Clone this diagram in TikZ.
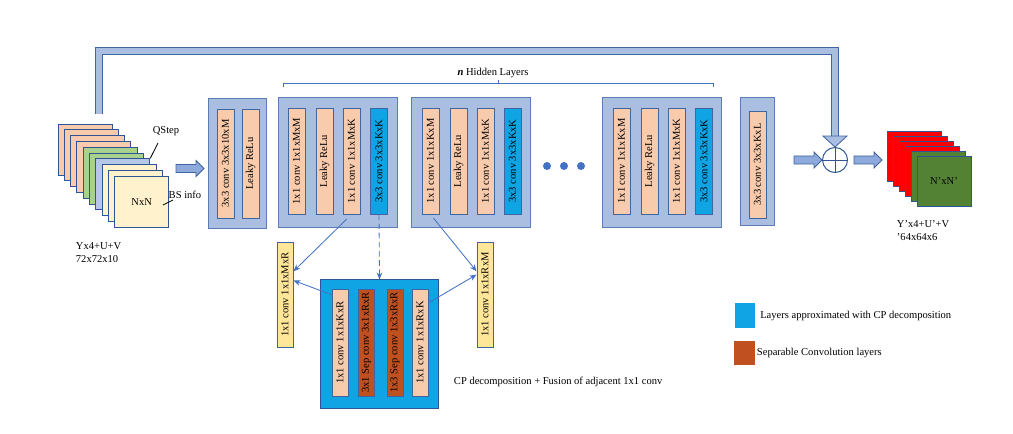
\documentclass[tikz,border=0pt]{standalone}
\usepackage{fontspec}
\setmainfont{Liberation Serif}
\usetikzlibrary{arrows.meta,shapes.arrows}

\definecolor{peach}{HTML}{F8CBAD}
\definecolor{greenpg}{HTML}{A9D18E}
\definecolor{bluepg}{HTML}{B4C7E7}
\definecolor{cream}{HTML}{FFF2CC}
\definecolor{yellowbar}{HTML}{FFE699}
\definecolor{cpblue}{HTML}{10A4E4}
\definecolor{sepbrown}{HTML}{C0501F}
\definecolor{blkfill}{HTML}{AABEE1}
\definecolor{blkline}{HTML}{5A7DB5}
\definecolor{barline}{HTML}{41659E}
\definecolor{pageline}{HTML}{2F5597}
\definecolor{outred}{HTML}{FF0000}
\definecolor{outgreen}{HTML}{548235}
\definecolor{arrfill}{HTML}{8EA9DB}
\definecolor{linkblue}{HTML}{4472C4}

\tikzset{
  every node/.style={font=\fontsize{7.5}{9}\selectfont},
  blk/.style={draw=blkline, fill=blkfill, line width=0.7pt, minimum width=2.95cm, minimum height=3.225cm, inner sep=0pt},
  bar/.style={draw=barline, fill=peach, line width=0.6pt, minimum width=0.425cm, minimum height=2.65cm, inner sep=0pt},
  lbl/.style={label={[rotate=90]center:#1}},
  page/.style={draw=pageline, line width=0.7pt, minimum width=1.35cm, minimum height=1.275cm, inner sep=0pt},
  opage/.style={page, minimum height=1.25cm},
  fatarrow/.style={single arrow, draw=barline, fill=arrfill, line width=0.6pt, inner sep=0pt, inner ysep=0.09cm,
    single arrow head extend=0.1cm, single arrow head indent=0pt, minimum height=0.7cm},
  link/.style={draw=linkblue, line width=0.6pt, -{Stealth[length=5pt,width=4pt]}},
}

\begin{document}
\begin{tikzpicture}[x=0.025cm, y=-0.025cm]
\useasboundingbox (0,0) rectangle (1013,434);

\node[page, fill=peach] (in0) at (85,149.5) {};
\node[page, fill=peach] (in1) at (91.3,155.3) {};
\node[page, fill=peach] (in2) at (97.6,161.1) {};
\node[page, fill=peach] (in3) at (103.9,166.9) {};
\node[page, fill=greenpg] (in4) at (110.2,172.7) {};
\node[page, fill=greenpg] (in5) at (116.5,178.5) {};
\node[page, fill=bluepg] (in6) at (122.8,184.3) {};
\node[page, fill=cream] (in7) at (129.1,190.1) {};
\node[page, fill=cream] (in8) at (135.4,195.9) {};
\node[page, fill=cream] (in9) at (141.7,201.7) {NxN};
\node (qstep) at (166,131) {QStep};
\node (bsinfo) at (185,195) {BS info};
\coordinate (qsend) at (158,143);
\coordinate (bsend) at (163,205);
\coordinate (bsstart) at (173,200);
\draw[line width=0.6pt] (in6.north east) -- (qsend);
\draw[line width=0.6pt] (bsstart) -- (bsend);
\node[align=left, anchor=west] (intxt) at (71,252.5) {Yx4+U+V\\72x72x10};

\node[fatarrow] (arrIn) at (188,168.5) {};

\node[blk, minimum width=1.45cm] (blk0) at (237,163.5) {};
\node[bar, minimum height=2.725cm, lbl=3x3 conv 3x3x10xM] (b01) at (225.5,163.5) {};
\node[bar, minimum height=2.725cm, lbl=Leaky ReLu] (b02) at (250.5,163.5) {};

\node[blk] (blk1) at (338,162.5) {};
\node[bar, lbl=1x1 conv 1x1xMxM] (b11) at (296.5,161) {};
\node[bar, lbl=Leaky ReLu] (b12) at (324.5,161) {};
\node[bar, lbl=1x1 conv 1x1xMxK] (b13) at (351.5,161) {};
\node[bar, fill=cpblue, lbl=3x3 conv 3x3xKxK] (b14) at (379,161) {};

\node[blk] (blk2) at (471,162.5) {};
\node[bar, lbl=1x1 conv 1x1xKxM] (b21) at (430.5,161) {};
\node[bar, lbl=Leaky ReLu] (b22) at (458.5,161) {};
\node[bar, lbl=1x1 conv 1x1xMxK] (b23) at (485.5,161) {};
\node[bar, fill=cpblue, lbl=3x3 conv 3x3xKxK] (b24) at (512.5,161) {};

\fill[linkblue] (547,166) circle[radius=0.1cm];
\fill[linkblue] (564,166) circle[radius=0.1cm];
\fill[linkblue] (581,166) circle[radius=0.1cm];

\node[blk] (blk3) at (662,162.5) {};
\node[bar, lbl=1x1 conv 1x1xKxM] (b31) at (621.5,161) {};
\node[bar, lbl=Leaky ReLu] (b32) at (649.5,161) {};
\node[bar, lbl=1x1 conv 1x1xMxK] (b33) at (676.5,161) {};
\node[bar, fill=cpblue, lbl=3x3 conv 3x3xKxK] (b34) at (704,161) {};

\node[blk, minimum width=0.85cm, minimum height=3.175cm] (blk4) at (757,161.5) {};
\node[bar, minimum height=2.675cm, lbl=3x3 conv 3x3xKxL] (b41) at (757.5,164.5) {};

\draw[linkblue, line width=0.6pt] (283,87) -- (283,83) -- (713,83) -- (713,87);
\draw[linkblue, line width=0.6pt] (498,83) -- (498,79.5);
\node (hidden) at (493,73) {\textbf{\textit{n}} Hidden Layers};

\node[fatarrow] (arrMid) at (806,160) {};
\node[circle, draw=pageline, fill=white, line width=0.7pt, minimum size=0.625cm, inner sep=0pt] (plus) at (835,160) {};
\draw[pageline, line width=0.7pt] (plus.north) -- (plus.south);
\draw[pageline, line width=0.7pt] (plus.west) -- (plus.east);
\node[fatarrow] (arrOut) at (866,160) {};

\coordinate (fbstart) at (99,114);
\coordinate (fbtop) at (470,51);
\coordinate (fbend) at (835,136);
\draw[draw=barline, line width=0.6pt, double=blkfill, double distance=0.16cm] (fbstart) |- (fbtop) -| (fbend);
\filldraw[draw=barline, fill=blkfill, line width=0.6pt] (823,136) -- (847,136) -- (835,147) -- cycle;

\node[opage, fill=outred] (out0) at (914,156) {};
\node[opage, fill=outred] (out1) at (920,161) {};
\node[opage, fill=outred] (out2) at (926,166) {};
\node[opage, fill=outred] (out3) at (932,171) {};
\node[opage, fill=outgreen] (out4) at (938,176) {};
\node[opage, fill=outgreen] (out5) at (944,181) {N'xN'};
\node[align=left, anchor=west] (outtxt) at (892,230.5) {Y'x4+U'+V\\'64x64x6};

\node[bar, fill=yellowbar, minimum width=0.4cm, minimum height=2.625cm, lbl=1x1 conv 1x1xMxR] (yl) at (285,294.5) {};
\node[bar, fill=yellowbar, minimum width=0.4cm, minimum height=2.625cm, lbl=1x1 conv 1x1xRxM] (yr) at (485,294.5) {};

\node[draw=pageline, fill=cpblue, line width=0.7pt, minimum width=2.925cm, minimum height=3.2cm, inner sep=0pt] (cp) at (379.5,344) {};
\node[bar, minimum width=0.4cm, minimum height=2.675cm, lbl=1x1 conv 1x1xKxR] (c1) at (340,342.5) {};
\node[bar, fill=sepbrown, minimum width=0.4cm, minimum height=2.675cm, lbl=3x1 Sep conv 3x1xRxR] (c2) at (366.5,342.5) {};
\node[bar, fill=sepbrown, minimum width=0.4cm, minimum height=2.675cm, lbl=1x3 Sep conv 1x3xRxR] (c3) at (395,342.5) {};
\node[bar, minimum width=0.4cm, minimum height=2.675cm, lbl=1x1 conv 1x1xRxK] (c4) at (420,342.5) {};
\node[anchor=west] (cptxt) at (449,382) {CP decomposition + Fusion of adjacent 1x1 conv};

\draw[link, shorten <=0.17cm] (b13.south) -- (yl.70);
\draw[link] (c1.100) -- (yl.59);
\draw[link, dash pattern=on 4pt off 2.5pt] (b14.south) -- (cp.north);
\draw[link, shorten <=0.12cm] (b21.south) -- (yr.110);
\draw[link] (c4.78) -- (yr.113);

\node[fill=cpblue, minimum width=0.5cm, minimum height=0.625cm, inner sep=0pt] (lg1) at (745,315.5) {};
\node[anchor=west] (lg1txt) at (lg1.east) {Layers approximated with CP decomposition};
\node[fill=sepbrown, minimum width=0.525cm, minimum height=0.6cm, inner sep=0pt] (lg2) at (744.5,353) {};
\node[anchor=west, inner xsep=1pt] (lg2txt) at (lg2.east) {Separable Convolution layers};
\end{tikzpicture}
\end{document}
